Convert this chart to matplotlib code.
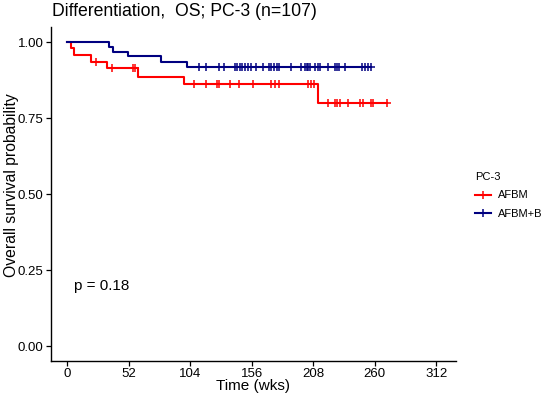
import numpy as np
import matplotlib
matplotlib.use("Agg")
import matplotlib.pyplot as plt
from matplotlib.lines import Line2D

plt.rcParams['font.family'] = ['Liberation Sans', 'DejaVu Sans']

groups = ["AFBM", "AFBM+B"]
colors = ["#ff0000", "#000080"]

# AFBM (red)
red_event_t = [3, 6, 20, 34, 60, 99, 212]
red_surv = [0.979, 0.957, 0.935, 0.913, 0.886, 0.862, 0.798]
red_cens_t = [24, 38, 56, 57, 107, 117.6, 127, 128, 138, 145, 157, 172.7, 175.6, 179,
              203.8, 206, 208.6, 220.7, 226.4, 228.3, 230.6, 237.6, 247.6, 249.8,
              256.6, 258.3, 270.2]

# AFBM+B (blue)
blue_event_t = [35.6, 39, 51.7, 79.4, 101.5]
blue_surv = [0.985, 0.968, 0.954, 0.935, 0.919]
blue_cens_t = [111.3, 117, 128, 132.5, 141.6, 143.5, 145.8, 147.8, 150.7, 152.9, 155.2,
               160, 165.6, 170.7, 172.7, 174.7, 177, 179, 188.8, 197.5, 201, 202.4,
               203.7, 205.2, 209.4, 211.7, 213.6, 220.7, 226.4, 228.3, 230, 234.8,
               249, 251.8, 254.6, 256.6]

x_ticks = [0, 52, 104, 156, 208, 260, 312]
y_ticks = [0.0, 0.25, 0.5, 0.75, 1.0]
y_ticklabels = ["0.00", "0.25", "0.50", "0.75", "1.00"]
pval_text = "p = 0.18"

W, H = 550, 400
fig = plt.figure(figsize=(5.5, 4), dpi=100)
ax = fig.add_axes([51/W, 39/H, (456-51)/W, (361-26.8)/H])

def draw(ev_t, surv, cens_t, color):
    end = max(cens_t + ev_t)
    t = [0] + list(ev_t) + [end]
    s = [1.0] + list(surv) + [surv[-1]]
    ax.plot(t, s, drawstyle='steps-post', color=color, lw=1.5)
    ev = np.array(ev_t)
    sv = np.array([1.0] + list(surv))
    idx = np.searchsorted(ev, np.array(cens_t), side='right')
    ax.plot(cens_t, sv[idx], ls='none', marker='+', color=color, ms=6, mew=1.1)

draw(red_event_t, red_surv, red_cens_t, colors[0])
draw(blue_event_t, blue_surv, blue_cens_t, colors[1])

ax.set_xlim(-13.6, 328.6)
ax.set_ylim(-0.049, 1.05)
ax.set_xticks(x_ticks)
ax.set_xticklabels([str(v) for v in x_ticks])
ax.set_yticks(y_ticks)
ax.set_yticklabels(y_ticklabels)
for sp in ['top', 'right']:
    ax.spines[sp].set_visible(False)
for sp in ['left', 'bottom']:
    ax.spines[sp].set_linewidth(1.0)
ax.tick_params(axis='both', labelsize=9.5, length=3.5, width=0.9, colors='black', pad=2)
ax.tick_params(axis='x', pad=1.5)

fig.text(253/W, 1 - 386/H, "Time (wks)", fontsize=11, ha='center', va='center')
fig.text(12/W, 1 - 185/H, "Overall survival probability", fontsize=11.3,
         ha='center', va='center', rotation=90)

ax.text(6, 0.197, pval_text, fontsize=11, ha='left', va='center')

fig.text(52/W, 1 - 12/H, "Differentiation,  OS; PC-3 (n=107)", fontsize=12.7,
         ha='left', va='center')

handles = [Line2D([], [], color=c, lw=1.5, marker='+', ms=6, mew=1.1) for c in colors]
leg = fig.legend(handles, groups, title="PC-3", loc='upper left',
                 bbox_to_anchor=(0.845, 0.596), frameon=False, fontsize=8,
                 title_fontsize=8, handlelength=1.5, handletextpad=0.6,
                 labelspacing=0.8)
leg._legend_box.align = "left"

fig.savefig("out.png", dpi=100)
